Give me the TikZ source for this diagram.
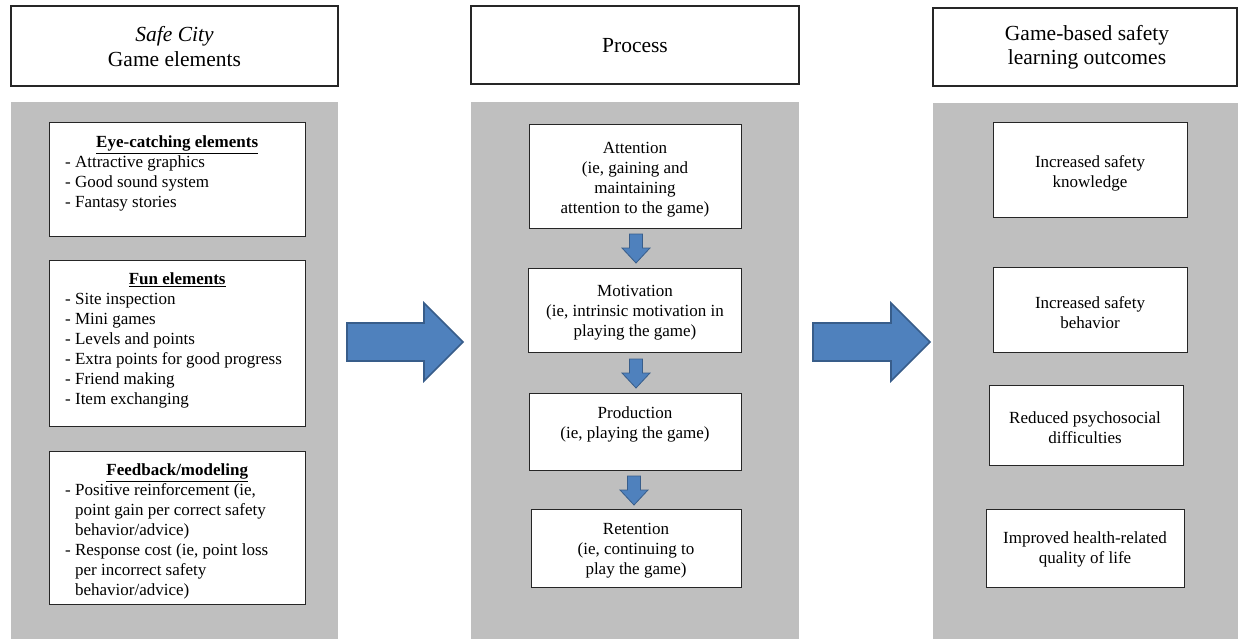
\documentclass[tikz,border=0pt]{standalone}
\usepackage{fontspec}
\setmainfont{Liberation Serif}
\usetikzlibrary{fit}
\definecolor{panelgray}{HTML}{BFBFBF}
\definecolor{arrowfill}{HTML}{4F81BD}
\definecolor{arrowline}{HTML}{385D8A}
\begin{document}
\begin{tikzpicture}[x=1pt,y=-1pt,
  hdr/.style={draw=black!85, line width=1.1pt, fill=white, inner sep=0pt},
  panel/.style={fill=panelgray, draw=none, inner sep=0pt},
  inbox/.style={draw=black!85, line width=1pt, fill=white, inner sep=0pt},
  txt/.style={font=\fontsize{17}{20}\selectfont, inner sep=0pt},
  ltxt/.style={txt, text width=224pt, align=flush left, anchor=west},
  ctxt/.style={txt, align=center},
  hdrtxt/.style={font=\fontsize{21.5}{24.5}\selectfont, align=center, inner sep=0pt},
  bigarrow/.style={fill=arrowfill, draw=arrowline, line width=1.6pt, line join=miter},
  smallarrow/.style={fill=arrowfill, draw=arrowline, line width=0.8pt, line join=miter}]
\useasboundingbox (0,0) rectangle (1238,639);
\fill[white] (0,0) rectangle (1238,639);

% headers
\node[hdr, fit={(11,6) (338,86)}] (h1) {};
\node[hdr, fit={(471,6) (799,84)}] (h2) {};
\node[hdr, fit={(933,8) (1237,86)}] (h3) {};
\node[hdrtxt] (h1t) at (174.5,46.5) {\textit{Safe City}\\Game elements};
\node[hdrtxt] (h2t) at (635,46) {Process};
\node[hdrtxt] (h3t) at (1087,47.5) {Game-based safety\\learning outcomes};

% panels
\node[panel, fit={(11,102) (338,639)}] (pL) {};
\node[panel, fit={(471,102) (799,639)}] (pM) {};
\node[panel, fit={(933,103) (1238,639)}] (pR) {};

% left boxes
\node[inbox, fit={(49,123) (305,236)}] (eye) {};
\node[inbox, fit={(49,260) (305,426)}] (fun) {};
\node[inbox, fit={(49,451) (305,604)}] (fb) {};
\node[ltxt] (eyeT) at (65,173.5)
  {\makebox[224pt]{\underline{\textbf{Eye-catching elements}}}\\
   - Attractive graphics\\- Good sound system\\- Fantasy stories};
\node[ltxt] (funT) at (65,340.5)
  {\makebox[224pt]{\underline{\textbf{Fun elements}}}\\
   - Site inspection\\- Mini games\\- Levels and points\\- Extra points for good progress\\- Friend making\\- Item exchanging};
\node[ltxt] (fbT) at (65,531.5)
  {\makebox[224pt]{\underline{\textbf{Feedback/modeling}}}\\
   - Positive reinforcement (ie,\\\phantom{- }point gain per correct safety\\\phantom{- }behavior/advice)\\
   - Response cost (ie, point loss\\\phantom{- }per incorrect safety\\\phantom{- }behavior/advice)};

% middle boxes
\node[inbox, fit={(529,125) (741,228)}] (att) {};
\node[inbox, fit={(528,268) (741,352)}] (mot) {};
\node[inbox, fit={(529,393) (741,470)}] (prod) {};
\node[inbox, fit={(531,509) (741,587)}] (ret) {};
\node[ctxt] (attT) at (635,180) {Attention\\(ie, gaining and\\maintaining\\attention to the game)};
\node[ctxt] (motT) at (635,313) {Motivation\\(ie, intrinsic motivation in\\playing the game)};
\node[ctxt] (prodT) at (635,424.5) {Production\\(ie, playing the game)};
\node[ctxt] (retT) at (636,550.5) {Retention\\(ie, continuing to\\play the game)};

% right boxes
\node[inbox, fit={(993,123) (1187,217)}] (know) {};
\node[inbox, fit={(993,267) (1187,352)}] (beh) {};
\node[inbox, fit={(989,385) (1183,465)}] (psy) {};
\node[inbox, fit={(986,509) (1184,587)}] (qol) {};
\node[ctxt] (knowT) at (1090,173) {Increased safety\\knowledge};
\node[ctxt] (behT) at (1090,312.5) {Increased safety\\behavior};
\node[ctxt] (psyT) at (1085,428) {Reduced psychosocial\\difficulties};
\node[ctxt] (qolT) at (1085,549.5) {Improved health-related\\quality of life};

% big arrows
\draw[bigarrow] (347,323) -- (424,323) -- (424,303) -- (463,342) -- (424,381) -- (424,361) -- (347,361) -- cycle;
\draw[bigarrow] (813,323) -- (891,323) -- (891,303) -- (930,342) -- (891,381) -- (891,361) -- (813,361) -- cycle;

% small arrows
\draw[smallarrow] (629.5,234) -- (642.5,234) -- (642.5,248) -- (650,248) -- (636,263) -- (622,248) -- (629.5,248) -- cycle;
\draw[smallarrow] (629.5,359) -- (642.5,359) -- (642.5,373) -- (650,373) -- (636,388) -- (622,373) -- (629.5,373) -- cycle;
\draw[smallarrow] (627.5,476) -- (640.5,476) -- (640.5,490) -- (648,490) -- (634,505) -- (620,490) -- (627.5,490) -- cycle;
\end{tikzpicture}
\end{document}
